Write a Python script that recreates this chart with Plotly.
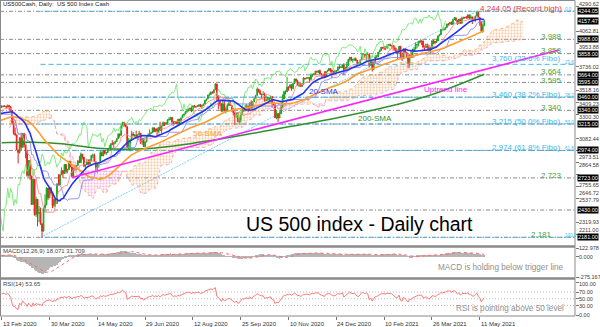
import numpy as np
import pandas as pd
import plotly.graph_objects as go

# ---------------------------------------------------------------------------
# Closing prices used only to warm up the indicators (Nov 2019 - 12 Feb 2020)
# ---------------------------------------------------------------------------
close_2019_11 = [3067, 3078, 3075, 3077, 3085, 3093, 3087, 3092, 3094, 3097, 3120,
                 3122, 3120, 3108, 3104, 3110, 3134, 3141, 3154, 3152, 3141]
close_2019_12 = [3114, 3093, 3113, 3117, 3146, 3136, 3133, 3142, 3169, 3169, 3191,
                 3193, 3191, 3205, 3221, 3224, 3223, 3240, 3240, 3221, 3231]
close_2020_01 = [3258, 3235, 3246, 3237, 3253, 3275, 3265, 3288, 3283, 3289, 3317,
                 3330, 3330, 3321, 3322, 3326, 3295, 3244, 3276, 3273, 3284, 3226]
close_2020_02a = [3249, 3298, 3335, 3346, 3328, 3352, 3358, 3379]

# ---------------------------------------------------------------------------
# Daily bars shown on the chart: (high, low, close)
# ---------------------------------------------------------------------------
bars_2020_02 = [(3385, 3360, 3374), (3381, 3367, 3380), (3384, 3375, 3378), (3378, 3356, 3370),
                (3393, 3378, 3386), (3389, 3341, 3373), (3360, 3328, 3338), (3259, 3214, 3226),
                (3246, 3118, 3128), (3182, 3108, 3116), (3097, 2977, 2979), (2959, 2855, 2954)]
bars_2020_03 = [(3090, 2945, 3090), (3136, 2976, 3003), (3130, 3034, 3130), (3083, 2999, 3024),
                (2985, 2901, 2972), (2863, 2734, 2747), (2882, 2734, 2882), (2825, 2707, 2741),
                (2661, 2478, 2481), (2711, 2493, 2711), (2563, 2380, 2386), (2553, 2367, 2529),
                (2453, 2281, 2398), (2467, 2320, 2409), (2453, 2295, 2305), (2300, 2181, 2237),
                (2450, 2300, 2447), (2572, 2407, 2476), (2638, 2508, 2630), (2615, 2520, 2541),
                (2632, 2545, 2627), (2641, 2571, 2585)]
bars_2020_04 = [(2522, 2447, 2471), (2534, 2455, 2527), (2534, 2459, 2489), (2677, 2527, 2664),
                (2757, 2657, 2659), (2761, 2664, 2750), (2819, 2762, 2790), (2783, 2722, 2762),
                (2851, 2805, 2846), (2801, 2762, 2783), (2807, 2765, 2800), (2880, 2843, 2875),
                (2868, 2821, 2823), (2785, 2727, 2737), (2815, 2775, 2799), (2844, 2794, 2798),
                (2842, 2791, 2837), (2887, 2854, 2878), (2925, 2861, 2863), (2955, 2892, 2940),
                (2930, 2892, 2912)]
bars_2020_05 = [(2869, 2821, 2831), (2844, 2797, 2843), (2898, 2853, 2868), (2892, 2845, 2848),
                (2896, 2869, 2881), (2932, 2914, 2930), (2945, 2906, 2930), (2945, 2869, 2870),
                (2875, 2794, 2820), (2852, 2766, 2852), (2865, 2816, 2864), (2969, 2926, 2954),
                (2965, 2922, 2923), (2981, 2953, 2972), (2978, 2938, 2949), (2956, 2934, 2955),
                (2995, 2955, 2992), (3021, 2988, 2992), (3036, 2970, 3036), (3068, 3023, 3030),
                (3049, 2999, 3044)]
bars_2020_06 = [(3062, 3032, 3056), (3081, 3051, 3081), (3130, 3098, 3123), (3129, 3090, 3112),
                (3211, 3164, 3194), (3233, 3196, 3232), (3222, 3193, 3207), (3224, 3186, 3190),
                (3123, 2999, 3002), (3088, 2984, 3041), (3079, 2965, 3067), (3154, 3078, 3125),
                (3141, 3108, 3113), (3121, 3093, 3115), (3155, 3084, 3098), (3120, 3079, 3118),
                (3154, 3122, 3131), (3127, 3033, 3050), (3086, 3025, 3084), (3074, 3005, 3009),
                (3054, 3000, 3053), (3111, 3048, 3100)]
bars_2020_07 = [(3128, 3096, 3116), (3166, 3124, 3130), (3140, 3125, 3135), (3183, 3155, 3180),
                (3184, 3142, 3145), (3171, 3141, 3170), (3180, 3115, 3152), (3186, 3136, 3185),
                (3236, 3152, 3155), (3200, 3128, 3198), (3238, 3207, 3227), (3220, 3198, 3216),
                (3233, 3205, 3225), (3259, 3208, 3252), (3277, 3247, 3257), (3280, 3250, 3276),
                (3279, 3222, 3236), (3227, 3200, 3216), (3242, 3214, 3239), (3243, 3216, 3218),
                (3264, 3228, 3258), (3250, 3205, 3246), (3272, 3220, 3271)]
bars_2020_08 = [(3302, 3284, 3295), (3307, 3283, 3307), (3330, 3310, 3328), (3351, 3318, 3349),
                (3352, 3329, 3351), (3363, 3336, 3360), (3382, 3323, 3334), (3387, 3348, 3380),
                (3388, 3367, 3373), (3378, 3362, 3373), (3388, 3373, 3382), (3395, 3370, 3390),
                (3399, 3370, 3375), (3391, 3354, 3386), (3400, 3379, 3397), (3432, 3414, 3431),
                (3444, 3422, 3444), (3482, 3445, 3479), (3501, 3469, 3485), (3509, 3485, 3508),
                (3514, 3494, 3500)]
bars_2020_09 = [(3529, 3494, 3527), (3588, 3535, 3581), (3565, 3427, 3455), (3479, 3349, 3427),
                (3430, 3380, 3400), (3379, 3330, 3332), (3425, 3365, 3399), (3425, 3329, 3339),
                (3368, 3311, 3341), (3402, 3364, 3384), (3419, 3389, 3401), (3428, 3384, 3385),
                (3369, 3328, 3357), (3363, 3293, 3319), (3286, 3209, 3281), (3320, 3270, 3316),
                (3323, 3232, 3237), (3279, 3209, 3247), (3306, 3229, 3298), (3360, 3333, 3352),
                (3357, 3327, 3335), (3394, 3340, 3363)]
bars_2020_10 = [(3398, 3362, 3381), (3370, 3323, 3348), (3409, 3352, 3409), (3432, 3354, 3361),
                (3426, 3385, 3419), (3447, 3425, 3447), (3479, 3447, 3477), (3549, 3480, 3534),
                (3534, 3501, 3512), (3528, 3480, 3489), (3484, 3443, 3483), (3515, 3482, 3484),
                (3502, 3419, 3427), (3476, 3431, 3443), (3461, 3431, 3436), (3460, 3415, 3453),
                (3466, 3440, 3465), (3441, 3364, 3401), (3409, 3388, 3391), (3342, 3270, 3271),
                (3342, 3259, 3310), (3305, 3233, 3270)]
bars_2020_11 = [(3331, 3280, 3310), (3389, 3328, 3369), (3486, 3405, 3443), (3519, 3485, 3510),
                (3522, 3484, 3509), (3646, 3543, 3551), (3559, 3518, 3546), (3576, 3545, 3573),
                (3569, 3519, 3537), (3593, 3538, 3585), (3628, 3601, 3627), (3624, 3595, 3610),
                (3619, 3567, 3568), (3586, 3553, 3582), (3582, 3556, 3558), (3589, 3552, 3578),
                (3643, 3594, 3635), (3636, 3618, 3630), (3640, 3625, 3633), (3644, 3629, 3638),
                (3634, 3594, 3622)]
bars_2020_12 = [(3678, 3645, 3662), (3670, 3645, 3669), (3682, 3658, 3667), (3699, 3671, 3699),
                (3698, 3680, 3692), (3708, 3678, 3702), (3713, 3659, 3673), (3679, 3646, 3668),
                (3665, 3633, 3663), (3697, 3645, 3647), (3695, 3660, 3695), (3711, 3688, 3701),
                (3726, 3710, 3722), (3726, 3685, 3709), (3703, 3636, 3695), (3702, 3679, 3687),
                (3712, 3689, 3690), (3704, 3689, 3703), (3740, 3723, 3735), (3757, 3720, 3727),
                (3744, 3730, 3732), (3760, 3726, 3756)]
bars_2021_01 = [(3770, 3663, 3701), (3738, 3700, 3727), (3784, 3706, 3748), (3811, 3764, 3804),
                (3827, 3784, 3825), (3818, 3789, 3800), (3810, 3776, 3801), (3820, 3792, 3810),
                (3823, 3792, 3796), (3788, 3749, 3768), (3780, 3755, 3770), (3804, 3780, 3799),
                (3860, 3816, 3852), (3862, 3845, 3853), (3853, 3821, 3841), (3860, 3791, 3855),
                (3870, 3847, 3850), (3836, 3733, 3751), (3831, 3756, 3787), (3778, 3694, 3714)]
bars_2021_02 = [(3784, 3726, 3774), (3843, 3792, 3826), (3847, 3817, 3830), (3872, 3825, 3872),
                (3895, 3874, 3887), (3916, 3893, 3916), (3918, 3902, 3911), (3928, 3890, 3910),
                (3925, 3890, 3916), (3935, 3900, 3935), (3945, 3930, 3940), (3950, 3923, 3933),
                (3933, 3901, 3931), (3922, 3885, 3914), (3931, 3885, 3907), (3902, 3869, 3877),
                (3895, 3805, 3881), (3928, 3866, 3925), (3925, 3815, 3829), (3861, 3789, 3811)]
bars_2021_03 = [(3903, 3844, 3902), (3906, 3868, 3870), (3874, 3818, 3820), (3852, 3724, 3768),
                (3852, 3730, 3842), (3882, 3820, 3821), (3903, 3857, 3875), (3918, 3885, 3899),
                (3960, 3915, 3939), (3944, 3906, 3943), (3970, 3924, 3969), (3981, 3954, 3963),
                (3983, 3935, 3974), (3970, 3914, 3915), (3932, 3885, 3913), (3949, 3911, 3941),
                (3949, 3902, 3911), (3938, 3889, 3889), (3919, 3853, 3910), (3978, 3909, 3975),
                (3982, 3943, 3971), (3969, 3943, 3959), (3995, 3965, 3973)]
bars_2021_04 = [(4020, 3987, 4020), (4038, 4015, 4030), (4083, 4034, 4078), (4087, 4069, 4074),
                (4083, 4069, 4080), (4098, 4082, 4097), (4129, 4096, 4129), (4131, 4114, 4128),
                (4148, 4125, 4142), (4151, 4123, 4125), (4173, 4140, 4170), (4191, 4173, 4185),
                (4181, 4154, 4163), (4160, 4118, 4135), (4175, 4126, 4173), (4179, 4128, 4135),
                (4195, 4139, 4180), (4194, 4182, 4188), (4193, 4176, 4187), (4201, 4181, 4183),
                (4218, 4176, 4211), (4199, 4174, 4181)]
bars_2021_05 = [(4209, 4188, 4193), (4187, 4128, 4165), (4187, 4161, 4168), (4202, 4147, 4202),
                (4244.05, 4202, 4233), (4237, 4187, 4188), (4163, 4112, 4152), (4135, 4056, 4063),
                (4131, 4049, 4112), (4163, 4112, 4157.47)]

# 200-day SMA as plotted (bar number, value)
sma200_bar = [0, 20, 40, 64, 96, 128, 160, 192, 224, 256, 288, 323]
sma200_val = [3045, 3048, 3035, 2995, 2990, 3040, 3110, 3190, 3270, 3365, 3485, 3670]

# Date labels along the time axis (every 32 bars)
date_tick_bar = [0, 32, 64, 96, 128, 160, 192, 224, 256, 288, 320]
date_tick_text = ["13 Feb 2020", "30 Mar 2020", "14 May 2020", "29 Jun 2020", "12 Aug 2020",
                  "25 Sep 2020", "10 Nov 2020", "24 Dec 2020", "10 Feb 2021", "26 Mar 2021",
                  "11 May 2021"]

# Price levels
record_high = 4244.05
crash_low = 2181.0
record_bar = 318
low_bar = 26
last_price = 4157.47
fib_levels = [3760, 3460, 3215, 2974]
fib_names = ["23.6%", "38.2%", "50.0%", "61.8%"]
fib_tags = ["0.0", "23.6", "38.2", "50.0", "61.8", "100.0"]
green_levels = [3988, 3858, 3664, 3595, 3340, 2723, 2181]
line_levels = [4244.05, 3988, 3858, 3664, 3595, 3460, 3340, 3215, 2974, 2723, 2430, 2181]
box_levels = [4244.05, 4157.47, 3988.00, 3858.00, 3664.00, 3595.00, 3460.00, 3340.00,
              3215.00, 2974.00, 2723.00, 2430.00, 2181.00]
uptrend_bar = [47, 373]
uptrend_val = [2727, 3891]

# Right-hand scales
price_ticks = [4290.62, 4062.81, 3953.88, 3736.02, 3518.16, 3409.23, 3300.30, 3082.44,
               2973.51, 2864.58, 2755.65, 2646.72, 2537.79, 2319.93, 2211.00]
macd_ticks = [122.978, 0.0, -275.167]
macd_tick_text = ["122.978", "0.000", "-275.167"]
rsi_ticks = [100, 70, 50, 30, 0]
rsi_tick_text = ["100.00", "70.00", "50.00", "30.00", "0.00"]

# ---------------------------------------------------------------------------
warmup = close_2019_11 + close_2019_12 + close_2020_01 + close_2020_02a
visible = (bars_2020_02 + bars_2020_03 + bars_2020_04 + bars_2020_05 + bars_2020_06 +
           bars_2020_07 + bars_2020_08 + bars_2020_09 + bars_2020_10 + bars_2020_11 +
           bars_2020_12 + bars_2021_01 + bars_2021_02 + bars_2021_03 + bars_2021_04 +
           bars_2021_05)

n_pre = len(warmup)
hi = np.array([b[0] for b in visible], dtype=float)
lo = np.array([b[1] for b in visible], dtype=float)
cl = np.array([b[2] for b in visible], dtype=float)
op = np.concatenate([[warmup[-1]], cl[:-1]])
bar = np.arange(len(visible))

close_all = pd.Series(list(map(float, warmup)) + list(cl))
high_all = pd.Series(list(map(float, warmup)) + list(hi))
low_all = pd.Series(list(map(float, warmup)) + list(lo))
x_all = np.arange(-n_pre, len(visible))

# Indicators
sma20 = close_all.rolling(20).mean()
sma50 = close_all.rolling(50).mean()
tenkan = (high_all.rolling(9).max() + low_all.rolling(9).min()) / 2
kijun = (high_all.rolling(26).max() + low_all.rolling(26).min()) / 2
span_a = (tenkan + kijun) / 2
span_b = (high_all.rolling(52).max() + low_all.rolling(52).min()) / 2

ema12 = close_all.ewm(span=12, adjust=False).mean()
ema26 = close_all.ewm(span=26, adjust=False).mean()
macd = ema12 - ema26
macd_signal = macd.rolling(9).mean()

delta = close_all.diff()
avg_gain = delta.clip(lower=0).ewm(alpha=1 / 14, adjust=False).mean()
avg_loss = (-delta.clip(upper=0)).ewm(alpha=1 / 14, adjust=False).mean()
rsi = 100 - 100 / (1 + avg_gain / avg_loss)

# ---------------------------------------------------------------------------
W, H = 600, 327
PLOT_H = 316
X_LEFT = -1.14
PX_PER_BAR = 1.494
X_RIGHT = X_LEFT + 575 / PX_PER_BAR

MAIN_PIX = (2, 245)
MACD_PIX = (248, 277)
RSI_PIX = (280, 316)
RSI_RANGE = (-1.5, 106)
MACD_RANGE = (macd_ticks[2], macd_ticks[0])


def py(pix):
    return (PLOT_H - pix) / PLOT_H


def pxp(pix):
    return pix / W


PRICE_PER_PX = (record_high - crash_low) / (237.3 - 11.3)
main_top = record_high + (11.3 - MAIN_PIX[0]) * PRICE_PER_PX
main_bot = crash_low - (MAIN_PIX[1] - 237.3) * PRICE_PER_PX


def pix_main(v):
    return MAIN_PIX[0] + (main_top - v) / (main_top - main_bot) * (MAIN_PIX[1] - MAIN_PIX[0])


def pix_macd(v):
    return MACD_PIX[0] + (MACD_RANGE[1] - v) / (MACD_RANGE[1] - MACD_RANGE[0]) * (MACD_PIX[1] - MACD_PIX[0])


def pix_rsi(v):
    return RSI_PIX[0] + (RSI_RANGE[1] - v) / (RSI_RANGE[1] - RSI_RANGE[0]) * (RSI_PIX[1] - RSI_PIX[0])


UP = "#1fa51f"
DOWN = "#f01e1e"
FIB = "#3db7ee"
GREEN_TXT = "#45a445"
FONT = "Liberation Sans, Arial, sans-serif"

fig = go.Figure()

# Ichimoku cloud (sandy brown while span A leads, thistle pink otherwise)
xs_cloud = x_all + 26
valid = (~span_a.isna()) & (~span_b.isna()) & (xs_cloud >= X_LEFT - 1)
ca = span_a[valid].to_numpy()
cb = span_b[valid].to_numpy()
cx = xs_cloud[valid.to_numpy()]
bull = ca >= cb
start = 0
for i in range(1, len(cx) + 1):
    if i == len(cx) or bull[i] != bull[start]:
        end = min(i, len(cx) - 1)
        seg_x = list(cx[start:end + 1]) + list(cx[start:end + 1][::-1])
        seg_y = list(ca[start:end + 1]) + list(cb[start:end + 1][::-1])
        col = "#f0a060" if bull[start] else "#f080c0"
        fig.add_trace(go.Scatter(
            x=seg_x, y=seg_y, mode="lines", fill="toself", line=dict(width=0),
            fillcolor="rgba(0,0,0,0)",
            fillpattern=dict(shape=".", fgcolor=col, size=3, solidity=0.45),
            hoverinfo="skip"))
        start = i
fig.add_trace(go.Scatter(x=cx, y=ca, mode="lines",
                         line=dict(color="#f4a460", width=0.8, dash="dot"), hoverinfo="skip"))
fig.add_trace(go.Scatter(x=cx, y=cb, mode="lines",
                         line=dict(color="#e39bd0", width=0.8, dash="dot"), hoverinfo="skip"))

# Candles
fig.add_trace(go.Candlestick(
    x=bar, open=op, high=hi, low=lo, close=cl,
    increasing=dict(line=dict(color=UP, width=1), fillcolor=UP),
    decreasing=dict(line=dict(color=DOWN, width=1), fillcolor=DOWN),
    whiskerwidth=0, hoverinfo="skip"))

m = x_all >= X_LEFT - 1
ch_x = x_all - 26
mc = ch_x >= X_LEFT - 1
fig.add_trace(go.Scatter(x=ch_x[mc], y=close_all[mc], mode="lines",
                         line=dict(color="#6fe86f", width=0.9), hoverinfo="skip"))
fig.add_trace(go.Scatter(x=x_all[m], y=tenkan[m], mode="lines",
                         line=dict(color="#ff8a8a", width=0.9), hoverinfo="skip"))
fig.add_trace(go.Scatter(x=x_all[m], y=kijun[m], mode="lines",
                         line=dict(color="#8a8aff", width=0.9), hoverinfo="skip"))
fig.add_trace(go.Scatter(x=sma200_bar, y=sma200_val, mode="lines", line_shape="spline",
                         line=dict(color="#2f8f2f", width=1.5), hoverinfo="skip"))
fig.add_trace(go.Scatter(x=x_all[m], y=sma50[m], mode="lines",
                         line=dict(color="#ff9d2e", width=1.6), hoverinfo="skip"))
fig.add_trace(go.Scatter(x=x_all[m], y=sma20[m], mode="lines",
                         line=dict(color="#2433f0", width=1.6), hoverinfo="skip"))

# MACD panel
mv = x_all >= 0
fig.add_trace(go.Bar(x=x_all[mv], y=macd[mv], width=0.55,
                     marker=dict(color="#b5b5b5", line=dict(width=0)),
                     yaxis="y2", hoverinfo="skip"))
fig.add_trace(go.Scatter(x=x_all[mv], y=macd_signal[mv], mode="lines", yaxis="y2",
                         line=dict(color="#ff6a6a", width=1, dash="dot"), hoverinfo="skip"))

# RSI panel
fig.add_trace(go.Scatter(x=x_all[mv], y=rsi[mv], mode="lines", yaxis="y3",
                         line=dict(color="#ff7a7a", width=1), hoverinfo="skip"))

shapes = []
for lv in line_levels:
    shapes.append(dict(type="line", xref="x", yref="y", x0=X_LEFT, x1=X_RIGHT, y0=lv, y1=lv,
                       line=dict(color="#8c8c8c", width=1, dash="4px,2px,1px,2px"), layer="below"))
for lv in [record_high] + fib_levels + [crash_low]:
    dash = "5px,3px" if lv in fib_levels else "2px,2px"
    shapes.append(dict(type="line", xref="x", yref="y", x0=low_bar, x1=X_RIGHT, y0=lv, y1=lv,
                       line=dict(color=FIB, width=1, dash=dash), layer="below"))
shapes.append(dict(type="line", xref="x", yref="y", x0=low_bar, x1=record_bar,
                   y0=crash_low, y1=record_high,
                   line=dict(color="#7fd0f5", width=1, dash="2px,1px"), layer="below"))
shapes.append(dict(type="line", xref="x", yref="y", x0=uptrend_bar[0], x1=uptrend_bar[1],
                   y0=uptrend_val[0], y1=uptrend_val[1],
                   line=dict(color="#ff24ff", width=1.6), layer="above"))
for lv in [70, 50, 30]:
    shapes.append(dict(type="line", xref="x domain", yref="y3", x0=0, x1=1, y0=lv, y1=lv,
                       line=dict(color="#bdbdbd", width=1, dash="1px,2px"), layer="below"))
for pix, wdt in [(0.5, 1), (246.5, 2.5), (278.5, 2.5), (316, 1)]:
    shapes.append(dict(type="line", xref="paper", yref="paper", x0=0, x1=pxp(575),
                       y0=py(pix), y1=py(pix), line=dict(color="#8a8a8a", width=wdt)))
shapes.append(dict(type="line", xref="paper", yref="paper", x0=pxp(575), x1=pxp(575),
                   y0=py(316), y1=py(0.5), line=dict(color="#8a8a8a", width=1)))
shapes.append(dict(type="line", xref="paper", yref="paper", x0=pxp(0.5), x1=pxp(0.5),
                   y0=py(316), y1=py(0.5), line=dict(color="#8a8a8a", width=1)))

ann = []


def label(text, x, y, color, size, xanchor="right", yanchor="middle", xref="paper", yref="paper",
          yshift=0, **kw):
    ann.append(dict(text=text, x=x, y=y, xref=xref, yref=yref, xanchor=xanchor, yanchor=yanchor,
                    showarrow=False, yshift=yshift, font=dict(family=FONT, size=size, color=color),
                    borderpad=0, **kw))


# level labels sit just above their lines; a few are lifted a little more to stay apart
LEVEL_FONT = 8
lift = {4244.05: 3.3, 3760: 6.0, 3664: 3.4, 3595: 2.4}
label(f"{record_high:,.2f} (Record high)", pxp(563),
      py(pix_main(record_high) - lift[record_high]), "#e8343a", LEVEL_FONT)
for lv in green_levels:
    xr = 553 if lv == crash_low else 563
    label(f"{lv:,.0f}", pxp(xr), py(pix_main(lv) - lift.get(lv, 2.6)), GREEN_TXT, LEVEL_FONT)
for lv, nm in zip(fib_levels, fib_names):
    label(f"{lv:,.0f} ({nm} Fibo)", pxp(561), py(pix_main(lv) - lift.get(lv, 2.6)), FIB, LEVEL_FONT)
for lv, tg in zip([record_high] + fib_levels + [crash_low], fib_tags):
    label(tg, pxp(564), py(pix_main(lv) - 2.0), FIB, 4.5, xanchor="left")

# right-hand scale: black boxes at line levels, grey value labels kept clear of them
BOX_H = 7.0
box_pix = [pix_main(v) for v in box_levels]
for v, p in zip(box_levels, box_pix):
    label(f"{v:.2f}", pxp(576.5), py(p), "white", 5.5, xanchor="left", bgcolor="black")

grey = ([(pix_main(v), f"{v:.2f}") for v in price_ticks] +
        [(pix_macd(v), t) for v, t in zip(macd_ticks, macd_tick_text)] +
        [(pix_rsi(v), t) for v, t in zip(rsi_ticks, rsi_tick_text)])
placed = list(box_pix)
for p, t in grey:
    best, best_score = p, -1
    for k in range(0, 25):
        for sgn in (1, -1):
            q = p + sgn * k * 0.5
            d = min([abs(q - o) for o in placed] + [99])
            if d >= BOX_H and best_score < BOX_H:
                best, best_score = q, d
            elif best_score < BOX_H and d > best_score:
                best, best_score = q, d
        if best_score >= BOX_H:
            break
    placed.append(best)
    label(t, pxp(578), py(best), "#3a3a3a", 5.5, xanchor="left")

# indicator names
label("20-SMA", pxp(308), py(91), "#2433f0", 8, xanchor="left")
label("50-SMA", pxp(192), py(133), "#ff9d2e", 8, xanchor="left")
label("200-SMA", pxp(357), py(118), "#2f8f2f", 8, xanchor="left")
label("Uptrend line", pxp(423), py(90), "#ff24ff", 8, xanchor="left")

label("US 500 index - Daily chart", pxp(245), py(224), "black", 19.5, xanchor="left")
label("MACD is holding below trigger line", pxp(565), py(267), "#8f8f8f", 8.2)
label("RSI is pointing above 50 level", pxp(565), py(308), "#8f8f8f", 8.2)

label("US500Cash, Daily:  US 500 Index Cash", pxp(2), py(4.5), "#222222", 6, xanchor="left")
label("MACD(12,26,9) 18.071 31.709", pxp(2), py(251), "#444444", 6, xanchor="left")
label("RSI(14) 53.65", pxp(2), py(283.5), "#444444", 6, xanchor="left")

for b, t in zip(date_tick_bar, date_tick_text):
    label(t, b, -0.012, "#333333", 6, xanchor="left", xref="x", yanchor="top")

tick_common = dict(showticklabels=False, ticks="outside", ticklen=3, tickcolor="#777777",
                   showgrid=False, zeroline=False, showline=False, side="right", anchor="x")
fig.update_layout(
    width=W, height=H, margin=dict(l=0, r=0, t=0, b=H - PLOT_H),
    paper_bgcolor="white", plot_bgcolor="white", showlegend=False,
    font=dict(family=FONT, size=6),
    xaxis=dict(domain=[0, 575 / W], range=[X_LEFT, X_RIGHT], anchor="y3",
               tickvals=date_tick_bar, showticklabels=False, ticks="outside", ticklen=3,
               tickcolor="#777777", showgrid=False, zeroline=False, showline=False,
               rangeslider=dict(visible=False), fixedrange=True),
    yaxis=dict(domain=[py(MAIN_PIX[1]), py(MAIN_PIX[0])], range=[main_bot, main_top],
               tickvals=price_ticks, **tick_common),
    yaxis2=dict(domain=[py(MACD_PIX[1]), py(MACD_PIX[0])], range=list(MACD_RANGE),
                tickvals=macd_ticks, **tick_common),
    yaxis3=dict(domain=[py(RSI_PIX[1]), py(RSI_PIX[0])], range=list(RSI_RANGE),
                tickvals=rsi_ticks, **tick_common),
    shapes=shapes, annotations=ann, bargap=0,
)

fig.write_html("out.html")
